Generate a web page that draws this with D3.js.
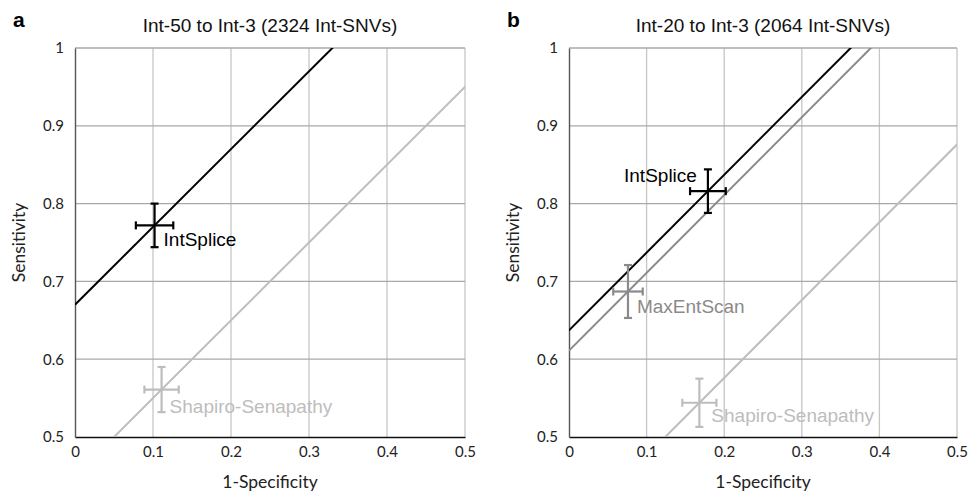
<!DOCTYPE html>
<html>
<head>
<meta charset="utf-8">
<script src="https://cdn.jsdelivr.net/npm/d3@7"></script>
<style>
  body { margin: 0; background: #fff; }
  svg { display: block; }
  .tick text { font-family: Lato, "Open Sans", sans-serif; font-size: 15px; fill: #222; }
  .axisTitle { font-family: Lato, "Open Sans", sans-serif; font-size: 17.5px; fill: #222; }
  .title { font-family: "Liberation Sans", Arial, sans-serif; font-size: 19px; fill: #111; }
  .letter { font-family: "Liberation Sans", Arial, sans-serif; font-size: 21px; font-weight: bold; fill: #000; }
  .methodLabel { font-family: "Liberation Sans", Arial, sans-serif; font-size: 19px; }
</style>
</head>
<body>
<svg id="chart" width="969" height="494"></svg>
<script>
// panel letters and titles
var panelLetters = ["a", "b"];
var panelTitles = ["Int-50 to Int-3 (2324 Int-SNVs)", "Int-20 to Int-3 (2064 Int-SNVs)"];

// axis ticks
var xTicks = [0, 0.1, 0.2, 0.3, 0.4, 0.5];
var xTickLabels = ["0", "0.1", "0.2", "0.3", "0.4", "0.5"];
var yTicks = [0.5, 0.6, 0.7, 0.8, 0.9, 1];
var yTickLabels = ["0.5", "0.6", "0.7", "0.8", "0.9", "1"];

// panel a
var methodsA = ["IntSplice", "Shapiro-Senapathy"];
var fprA = [0.102, 0.111];
var sensA = [0.772, 0.561];
var fprErrA = [0.024, 0.022];
var sensErrA = [0.028, 0.029];
var interceptA = [0.670, 0.450];

// panel b
var methodsB = ["IntSplice", "MaxEntScan", "Shapiro-Senapathy"];
var fprB = [0.179, 0.076, 0.168];
var sensB = [0.816, 0.687, 0.544];
var fprErrB = [0.023, 0.019, 0.022];
var sensErrB = [0.028, 0.034, 0.031];
var interceptB = [0.637, 0.611, 0.376];

// colour for each method
var methodColor = {
    "IntSplice": "#000000",
    "MaxEntScan": "#8a8a8a",
    "Shapiro-Senapathy": "#bdbdbd"
};
// where each label sits relative to its point (px)
var labelPlace = {
    "a": { "IntSplice": [9, 21, "start"], "Shapiro-Senapathy": [8, 23, "start"] },
    "b": { "IntSplice": [-11, -9, "end"], "MaxEntScan": [9, 21, "start"], "Shapiro-Senapathy": [12, 19, "start"] }
};

var svg = d3.select("#chart");
var plotTop = 48, plotBottom = 437;
var panels = [
    { left: 75, right: 465, methods: methodsA, fpr: fprA, sens: sensA, fprErr: fprErrA, sensErr: sensErrA, intercept: interceptA },
    { left: 569, right: 957, methods: methodsB, fpr: fprB, sens: sensB, fprErr: fprErrB, sensErr: sensErrB, intercept: interceptB }
];

panels.forEach(function (p, i) {
    drawPanel(p, i);
});

/**
 * Draw one ROC-style panel
 */
function drawPanel(p, i) {
    var x = d3.scaleLinear().domain([0, 0.5]).range([p.left, p.right]);
    var y = d3.scaleLinear().domain([0.5, 1]).range([plotBottom, plotTop]);
    var g = svg.append("g");
    var letter = panelLetters[i];

    // grid
    g.append("g").selectAll("line").data(xTicks.slice(1)).enter().append("line")
        .attr("x1", function (d) { return x(d); }).attr("x2", function (d) { return x(d); })
        .attr("y1", plotTop).attr("y2", plotBottom)
        .attr("stroke", "#c6c6c6").attr("stroke-width", 1.3);
    g.append("g").selectAll("line").data(yTicks.slice(1)).enter().append("line")
        .attr("y1", function (d) { return y(d); }).attr("y2", function (d) { return y(d); })
        .attr("x1", p.left).attr("x2", p.right)
        .attr("stroke", "#a8a8a8").attr("stroke-width", 1.3);

    // axes
    var xAxis = g.append("g").attr("transform", "translate(0," + plotBottom + ")")
        .call(d3.axisBottom(x).tickValues(xTicks).tickSize(0).tickPadding(9)
            .tickFormat(function (d, k) { return xTickLabels[k]; }));
    xAxis.select(".domain").attr("stroke", "#111").attr("stroke-width", 1.6);
    var yAxis = g.append("g").attr("transform", "translate(" + p.left + ",0)")
        .call(d3.axisLeft(y).tickValues(yTicks).tickSize(0).tickPadding(11)
            .tickFormat(function (d, k) { return yTickLabels[k]; }));
    yAxis.select(".domain").attr("stroke", "#555").attr("stroke-width", 1.4);

    g.append("text").attr("class", "axisTitle")
        .attr("x", (p.left + p.right) / 2).attr("y", 488)
        .attr("text-anchor", "middle").text("1-Specificity");
    g.append("text").attr("class", "axisTitle")
        .attr("transform", "translate(" + (p.left - 50) + "," + ((plotTop + plotBottom) / 2) + ") rotate(-90)")
        .attr("text-anchor", "middle").text("Sensitivity");

    g.append("text").attr("class", "title")
        .attr("x", (p.left + p.right) / 2).attr("y", 32)
        .attr("text-anchor", "middle").text(panelTitles[i]);
    g.append("text").attr("class", "letter")
        .attr("x", p.left - 62).attr("y", 27).text(letter);

    // clip for slope lines
    var clipId = "clip" + i;
    svg.append("clipPath").attr("id", clipId).append("rect")
        .attr("x", p.left).attr("y", plotTop).attr("width", p.right - p.left).attr("height", plotBottom - plotTop);

    var idx = d3.range(p.methods.length);
    // lines: slope 1 through each point
    g.append("g").attr("clip-path", "url(#" + clipId + ")")
        .selectAll("line").data(idx).enter().append("line")
        .attr("x1", x(0)).attr("y1", function (k) { return y(p.intercept[k]); })
        .attr("x2", x(0.6)).attr("y2", function (k) { return y(p.intercept[k] + 0.6); })
        .attr("stroke", function (k) { return methodColor[p.methods[k]]; })
        .attr("stroke-width", 2);

    // error crosses
    var cap = 4;
    idx.forEach(function (k) {
        var c = methodColor[p.methods[k]];
        var cx = x(p.fpr[k]), cy = y(p.sens[k]);
        var x0 = x(p.fpr[k] - p.fprErr[k]), x1 = x(p.fpr[k] + p.fprErr[k]);
        var y0 = y(p.sens[k] - p.sensErr[k]), y1 = y(p.sens[k] + p.sensErr[k]);
        var segs = [
            [x0, cy, x1, cy], [cx, y0, cx, y1],
            [x0, cy - cap, x0, cy + cap], [x1, cy - cap, x1, cy + cap],
            [cx - cap, y0, cx + cap, y0], [cx - cap, y1, cx + cap, y1]
        ];
        g.append("g").selectAll("line").data(segs).enter().append("line")
            .attr("x1", function (s) { return s[0]; }).attr("y1", function (s) { return s[1]; })
            .attr("x2", function (s) { return s[2]; }).attr("y2", function (s) { return s[3]; })
            .attr("stroke", c).attr("stroke-width", 2.2);

        var lp = labelPlace[letter][p.methods[k]];
        g.append("text").attr("class", "methodLabel")
            .attr("x", cx + lp[0]).attr("y", cy + lp[1])
            .attr("text-anchor", lp[2])
            .attr("fill", c)
            .text(p.methods[k]);
    });
}
</script>
</body>
</html>
